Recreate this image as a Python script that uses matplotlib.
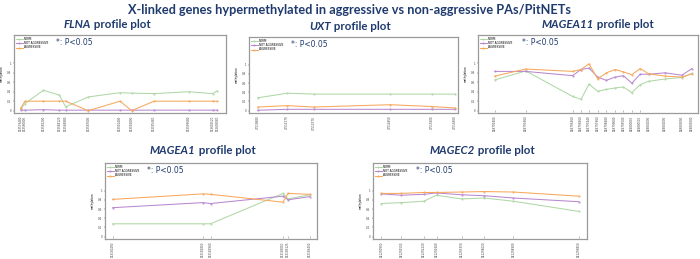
import matplotlib.pyplot as plt

# colours
NAVY = "#1f3a6e"
C_NORM = "#afd8a6"
C_NOT = "#b988cf"
C_AGG = "#f7a85c"

# ---- FLNA ----
flna_pos = [153579480, 153580000, 153582200, 153584120, 153584880, 153587600,
            153591400, 153592800, 153595480, 153599680, 153602520, 153603080]
flna_norm = [0.04, 0.15, 0.43, 0.33, 0.08, 0.29, 0.38, 0.37, 0.36, 0.40, 0.36, 0.42]
flna_not = [0.01, 0.01, 0.02, 0.01, 0.01, 0.01, 0.01, 0.01, 0.01, 0.01, 0.01, 0.01]
flna_agg = [0.05, 0.20, 0.20, 0.20, 0.20, 0.00, 0.20, 0.00, 0.20, 0.20, 0.20, 0.20]

# ---- UXT ----
uxt_pos = [47510680, 47511570, 47512370, 47514650, 47515900, 47516600]
uxt_norm = [0.28, 0.38, 0.36, 0.36, 0.36, 0.36]
uxt_not = [0.01, 0.03, 0.03, 0.03, 0.03, 0.03]
uxt_agg = [0.08, 0.11, 0.08, 0.13, 0.09, 0.06]

# ---- MAGEA11 ----
magea11_pos = [148791800, 148793660, 148796460, 148796960, 148797440, 148797960,
               148798480, 148799000, 148799500, 148800000, 148800500, 148801000,
               148802000, 148803000, 148803600]
magea11_norm = [0.65, 0.84, 0.30, 0.24, 0.56, 0.41, 0.45, 0.48, 0.50, 0.38, 0.55,
                0.62, 0.67, 0.70, 0.79]
magea11_not = [0.83, 0.83, 0.74, 0.87, 0.90, 0.71, 0.64, 0.71, 0.74, 0.58, 0.77,
               0.77, 0.80, 0.75, 0.89]
magea11_agg = [0.73, 0.88, 0.83, 0.87, 0.99, 0.67, 0.80, 0.87, 0.82, 0.76, 0.89,
               0.78, 0.73, 0.71, 0.78]
magea11_sig = magea11_pos[:11]

# ---- MAGEA1 ----
magea1_pos = [153180490, 153181850, 153181960, 153183050, 153183125, 153183450]
magea1_norm = [0.28, 0.28, 0.28, 0.94, 0.82, 0.91]
magea1_not = [0.63, 0.74, 0.72, 0.88, 0.80, 0.87]
magea1_agg = [0.81, 0.93, 0.92, 0.75, 0.94, 0.92]
magea1_sig = magea1_pos

# ---- MAGEC2 ----
magec2_pos = [141290950, 141291550, 141292220, 141292600, 141293350, 141294020,
              141294900, 141296850]
magec2_norm = [0.72, 0.74, 0.77, 0.90, 0.82, 0.84, 0.77, 0.55]
magec2_not = [0.93, 0.90, 0.92, 0.95, 0.91, 0.89, 0.84, 0.76]
magec2_agg = [0.94, 0.94, 0.96, 0.96, 0.97, 0.98, 0.97, 0.88]
magec2_sig = magec2_pos

W, H = 700, 259

panels = [
    # gene, pos, norm, not, agg, sig, box(px: x0, x1, y0, y1), xlim, subtitle left x, subtitle y
    ("FLNA", flna_pos, flna_norm, flna_not, flna_agg, [],
     (14, 226, 35, 113), (153578680, 153604120), 64, 25),
    ("UXT", uxt_pos, uxt_norm, uxt_not, uxt_agg, [],
     (249, 458, 37, 113), (47510420, 47516680), 309, 26),
    ("MAGEA11", magea11_pos, magea11_norm, magea11_not, magea11_agg, magea11_sig,
     (478, 698, 35, 113), (148790800, 148803960), 542, 25),
    ("MAGEA1", magea1_pos, magea1_norm, magea1_not, magea1_agg, magea1_sig,
     (105, 317, 163, 239), (153180375, 153183560), 150, 150),
    ("MAGEC2", magec2_pos, magec2_norm, magec2_not, magec2_agg, magec2_sig,
     (373, 587, 163, 239), (141290700, 141297100), 430, 150),
]

fig = plt.figure(figsize=(7, 2.59), dpi=100)
fig.patch.set_facecolor("white")

fig.text(0.5, 1 - 10 / H,
         "X-linked genes hypermethylated in aggressive vs non-aggressive PAs/PitNETs",
         ha="center", va="center", fontsize=9.2, fontweight="bold", color=NAVY,
         family="Lato")

for gene, pos, norm, notagg, agg, sig, box, xlim, tx, ty in panels:
    x0, x1, y0, y1 = box
    ax = fig.add_axes([x0 / W, 1 - y1 / H, (x1 - x0) / W, (y1 - y0) / H])
    ax.plot(pos, norm, color=C_NORM, lw=0.75, marker=".", ms=1.0, label="NORM")
    ax.plot(pos, notagg, color=C_NOT, lw=0.75, marker=".", ms=1.0, label="NOT AGGRESSIVE")
    ax.plot(pos, agg, color=C_AGG, lw=0.75, marker=".", ms=1.0, label="AGGRESSIVE")
    if sig:
        ax.plot(sig, [0] * len(sig), ls="none", marker="|", ms=1.5, mew=0.4,
                color="#888888")
    ax.set_xlim(*xlim)
    ax.set_ylim(-0.05, 1.6)
    ax.set_yticks([0, 0.2, 0.4, 0.6, 0.8, 1])
    ax.set_yticklabels(["0", "0.2", "0.4", "0.6", "0.8", "1"], fontsize=2.0)
    ax.set_xticks(pos)
    ax.set_xticklabels([str(p) for p in pos], rotation=90, fontsize=2.0)
    ax.tick_params(length=1, width=0.3, pad=1, colors="#444444")
    ax.set_ylabel("methylation", fontsize=2.0, labelpad=2)
    for s in ax.spines.values():
        s.set_color("#9a9a9a")
        s.set_linewidth(0.9)
    ax.legend(loc="upper left", fontsize=2.0, frameon=False, handlelength=2.5,
              borderaxespad=0.2, labelspacing=0.15, handletextpad=0.5)
    ax.text(0.2, 0.9, "*: P<0.05", transform=ax.transAxes, fontsize=5.5,
            color=NAVY, va="center", ha="left")

    # subtitle: bold italic gene name followed by " profile plot"
    t = fig.text(tx / W, 1 - ty / H, gene, fontsize=8.3, fontweight="bold",
                 style="italic", color=NAVY, va="center", ha="left", family="Lato")
    fig.add_artist(plt.Annotation(" profile plot", xy=(1, 0.5), xycoords=t,
                                  va="center", ha="left", fontsize=8.3,
                                  fontweight="bold", color=NAVY, family="Lato"))

fig.savefig("out.png", dpi=100, facecolor="white")
